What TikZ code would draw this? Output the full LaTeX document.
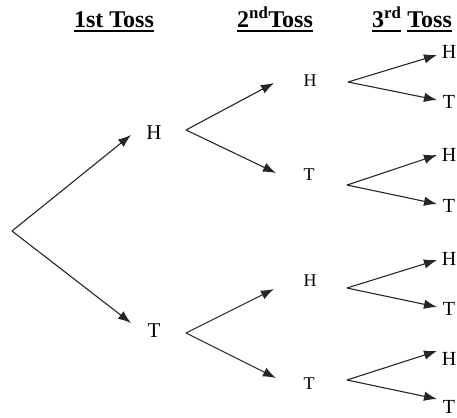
\documentclass[tikz,border=0pt]{standalone}
\usepackage{fontspec}
\setmainfont{Liberation Serif}
\usetikzlibrary{arrows.meta}

\tikzset{
  branch/.style={draw=black!85, line width=1.1pt,
    -{Latex[length=13pt,width=9.5pt]}},
  hdr/.style={anchor=base, inner sep=0pt,
    font=\fontsize{24}{28}\selectfont\bfseries},
  lvlone/.style={anchor=center, inner sep=0pt, font=\fontsize{21}{25}\selectfont},
  lvltwo/.style={anchor=center, inner sep=0pt, font=\fontsize{18}{22}\selectfont},
  lvlthree/.style={anchor=center, inner sep=0pt, font=\fontsize{20}{24}\selectfont},
}
% heading text with a heavy rule below it
\newcommand\headline[1]{\setbox0\hbox{#1}%
  \rlap{\raisebox{-3.6pt}{\rule{\wd0}{1.8pt}}}\box0\relax}

\begin{document}
\begin{tikzpicture}[x=1pt,y=-1pt]
  \useasboundingbox (0,0) rectangle (457,417);

  % column headings
  \node[hdr] (h1) at (114,28) {\headline{1st Toss}};
  \node[hdr] (h2) at (275,28) {\headline{2\textsuperscript{nd}}\headline{Toss}};
  \node[hdr] (h3) at (412,28) {\headline{3\textsuperscript{rd}} \headline{Toss}};

  % root of the tree
  \coordinate (root) at (12,231);

  % first toss
  \node[lvlone] (a) at (154,133) {H};
  \node[lvlone] (b) at (154,331) {T};
  \coordinate (a-in) at (131,135);
  \coordinate (b-in) at (131,323);
  \coordinate (a-out) at (186,130);
  \coordinate (b-out) at (186,333);

  % second toss
  \node[lvltwo] (aa) at (310,81) {H};
  \node[lvltwo] (ab) at (309,175) {T};
  \node[lvltwo] (ba) at (310,281) {H};
  \node[lvltwo] (bb) at (309,384) {T};
  \coordinate (aa-in) at (274,83);
  \coordinate (ab-in) at (276,173);
  \coordinate (ba-in) at (274,289);
  \coordinate (bb-in) at (276,378);
  \coordinate (aa-out) at (348,82);
  \coordinate (ab-out) at (347,185);
  \coordinate (ba-out) at (347,288);
  \coordinate (bb-out) at (347,380);

  % third toss
  \node[lvlthree] (aaa) at (449,52) {H};
  \node[lvlthree] (aab) at (449,102) {T};
  \node[lvlthree] (aba) at (449,155) {H};
  \node[lvlthree] (abb) at (449,206) {T};
  \node[lvlthree] (baa) at (449,259) {H};
  \node[lvlthree] (bab) at (449,309) {T};
  \node[lvlthree] (bba) at (449,359) {H};
  \node[lvlthree] (bbb) at (449,407) {T};
  \coordinate (aaa-in) at (437,55);
  \coordinate (aab-in) at (437,100);
  \coordinate (aba-in) at (437,155);
  \coordinate (abb-in) at (437,204);
  \coordinate (baa-in) at (437,260);
  \coordinate (bab-in) at (437,307);
  \coordinate (bba-in) at (437,351);
  \coordinate (bbb-in) at (437,399);

  % branches
  \draw[branch] (root) -- (a-in);
  \draw[branch] (root) -- (b-in);
  \draw[branch] (a-out) -- (aa-in);
  \draw[branch] (a-out) -- (ab-in);
  \draw[branch] (b-out) -- (ba-in);
  \draw[branch] (b-out) -- (bb-in);
  \draw[branch] (aa-out) -- (aaa-in);
  \draw[branch] (aa-out) -- (aab-in);
  \draw[branch] (ab-out) -- (aba-in);
  \draw[branch] (ab-out) -- (abb-in);
  \draw[branch] (ba-out) -- (baa-in);
  \draw[branch] (ba-out) -- (bab-in);
  \draw[branch] (bb-out) -- (bba-in);
  \draw[branch] (bb-out) -- (bbb-in);
\end{tikzpicture}
\end{document}
